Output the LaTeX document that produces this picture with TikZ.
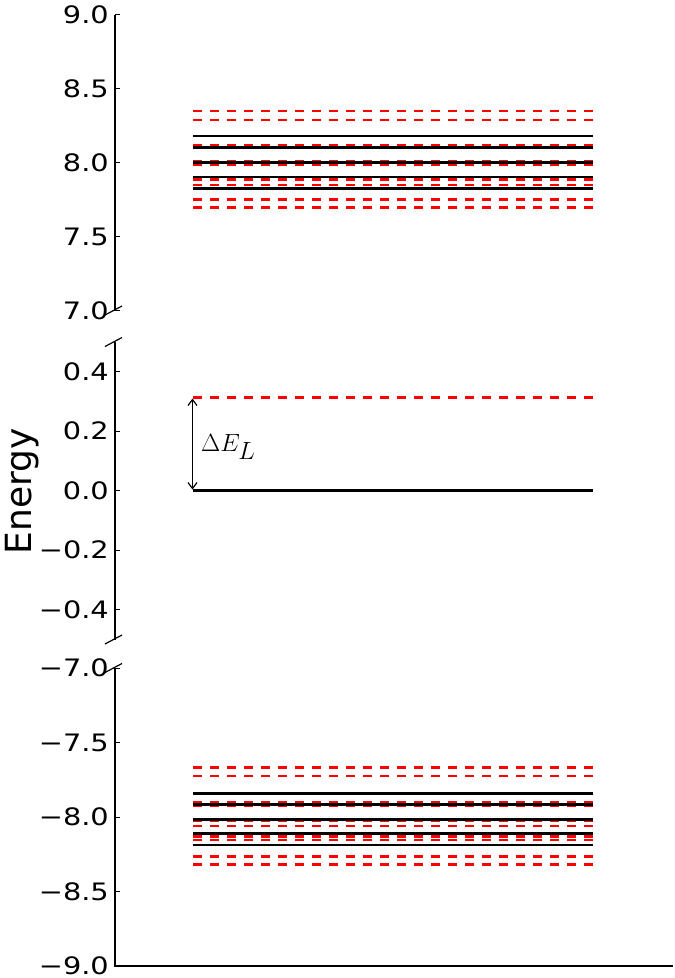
\documentclass[tikz,border=0pt]{standalone}
\usepackage{fontspec}
\newfontfamily\dvs{DejaVu Sans}
\usetikzlibrary{arrows.meta}
\begin{document}
\begin{tikzpicture}[x=1pt,y=-1pt,
  axisline/.style={line width=1.3pt, black},
  tickmark/.style={line width=1pt, black},
  brk/.style={line width=1.2pt, black},
  lvlblack/.style={line width=2.8pt, black},
  lvlred/.style={line width=2.8pt, red, dash pattern=on 8.5pt off 8.5pt},
  ticklab/.style={anchor=east, inner sep=0pt, font=\dvs\fontsize{24}{24}\selectfont},
]
\useasboundingbox (0,0) rectangle (675,978);
\fill[white] (0,0) rectangle (675,978);

% axis segments
\coordinate (a1t) at (115,14.5);  \coordinate (a1b) at (115,310.5);
\coordinate (a2t) at (115,342);   \coordinate (a2b) at (115,639.5);
\coordinate (a3t) at (115,668);   \coordinate (a3b) at (115,966);
\coordinate (xr) at (673,966);
\draw[axisline] (a1t) -- (a1b);
\draw[axisline] (a2t) -- (a2b);
\draw[axisline] (a3t) -- (a3b) -- (xr);

% break marks
\foreach \yy in {310.5,342,639.5,668}{
  \draw[brk] (105,\yy+4.5) -- (122,\yy-4.5);
}

% ticks and labels
\foreach \yy/\t [count=\i] in {14.5/9.0, 88.5/8.5, 162.5/8.0, 236.5/7.5, 310.5/7.0,
    371.7/0.4, 431.2/0.2, 490.7/0.0, 550.2/−0.2, 609.7/−0.4,
    668/−7.0, 742.5/−7.5, 817/−8.0, 891.5/−8.5, 966/−9.0}{
  \draw[tickmark] (115,\yy) -- (120,\yy);
  \node[ticklab] (tl\i) at (109,\yy) {\scalebox{1.2}[1]{\t}};
}

% axis label
\node[rotate=90, anchor=base, inner sep=0pt, font=\dvs\fontsize{36}{36}\selectfont] (ylab) at (31,491) {Energy};

% upper levels
\foreach \yy in {111,120,145,148,161.5,165,179.5,185,199.5,207.5}{
  \draw[lvlred] (193,\yy) -- (593,\yy);
}
\foreach \yy in {136,147.5,162.5,177,188.3}{
  \draw[lvlblack] (193,\yy) -- (593,\yy);
}

% middle levels
\draw[lvlred] (193,397.3) -- (593,397.3);
\draw[lvlblack] (193,490.7) -- (593,490.7);

% lower levels
\foreach \yy in {767.5,776,802,806,821,826,836.5,840,856.5,864.3}{
  \draw[lvlred] (193,\yy) -- (593,\yy);
}
\foreach \yy in {793.3,804.5,819.3,833.5,845}{
  \draw[lvlblack] (193,\yy) -- (593,\yy);
}

% Delta E_L arrow
\coordinate (aTop) at (192.5,398.5);
\coordinate (aBot) at (192.5,489.5);
\draw[line width=1.2pt, {Straight Barb[length=6pt,width=9pt]}-{Straight Barb[length=6pt,width=9pt]}] (aTop) -- (aBot);
\node[anchor=base west, inner sep=0pt, font=\fontsize{33}{33}\selectfont] (dEL) at (201,451) {$\Delta E_L$};
\end{tikzpicture}
\end{document}
